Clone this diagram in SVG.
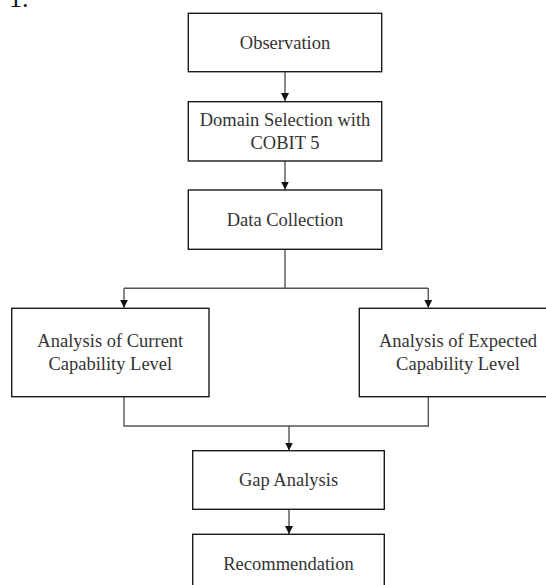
<svg xmlns="http://www.w3.org/2000/svg" width="546" height="585" viewBox="0 0 546 585">
<style>
.box{fill:#fff;stroke:#1a1a1a;stroke-width:1.4}
.lbl{font-family:"Liberation Serif","Times New Roman",serif;font-size:18.5px;fill:#333;text-anchor:middle}
.conn{fill:none;stroke:#555;stroke-width:1.4}
</style>
<defs>
<marker id="arr" markerWidth="9" markerHeight="9" refX="8" refY="4.5" orient="auto" markerUnits="userSpaceOnUse">
<path d="M0,0.5 L8,4.5 L0,8.5 Z" fill="#111"/>
</marker>
</defs>
<rect width="546" height="585" fill="#fff"/>
<text x="9" y="7" font-family="Liberation Serif, serif" font-size="26" fill="#111">1.</text>
<g id="connectors">
<line class="conn" x1="285" y1="72" x2="285" y2="101" marker-end="url(#arr)"/>
<line class="conn" x1="285" y1="161" x2="285" y2="189.5" marker-end="url(#arr)"/>
<line class="conn" x1="285" y1="249.5" x2="285" y2="288.3"/>
<path class="conn" d="M124,288.3 H428.3"/>
<line class="conn" x1="124" y1="288.3" x2="124" y2="307.8" marker-end="url(#arr)"/>
<line class="conn" x1="428.3" y1="288.3" x2="428.3" y2="307.8" marker-end="url(#arr)"/>
<polyline class="conn" points="124,396.7 124,426 428.3,426 428.3,396.7"/>
<line class="conn" x1="289" y1="426" x2="289" y2="450.5" marker-end="url(#arr)"/>
<line class="conn" x1="289" y1="509.5" x2="289" y2="534" marker-end="url(#arr)"/>
</g>
<g id="observation">
<rect class="box" x="188.3" y="13.3" width="193.4" height="58.4"/>
<text class="lbl" x="285" y="48.5">Observation</text>
</g>
<g id="domain-selection">
<rect class="box" x="188.3" y="101.7" width="193.4" height="59.3"/>
<text class="lbl" x="285" y="126">Domain Selection with</text>
<text class="lbl" x="285" y="148.5">COBIT 5</text>
</g>
<g id="data-collection">
<rect class="box" x="188.3" y="190" width="193.4" height="59.3"/>
<text class="lbl" x="285" y="225.5">Data Collection</text>
</g>
<g id="current-capability">
<rect class="box" x="11.7" y="308.3" width="197.3" height="88.4"/>
<text class="lbl" x="110.3" y="346.7">Analysis of Current</text>
<text class="lbl" x="110.3" y="370">Capability Level</text>
</g>
<g id="expected-capability">
<rect class="box" x="359.3" y="308.3" width="197.3" height="88.4"/>
<text class="lbl" x="458" y="346.7">Analysis of Expected</text>
<text class="lbl" x="458" y="370">Capability Level</text>
</g>
<g id="gap-analysis">
<rect class="box" x="192.7" y="450.7" width="191.6" height="58.6"/>
<text class="lbl" x="288.5" y="486">Gap Analysis</text>
</g>
<g id="recommendation">
<rect class="box" x="192.7" y="534.3" width="191.6" height="60"/>
<text class="lbl" x="288.5" y="570">Recommendation</text>
</g>
</svg>
